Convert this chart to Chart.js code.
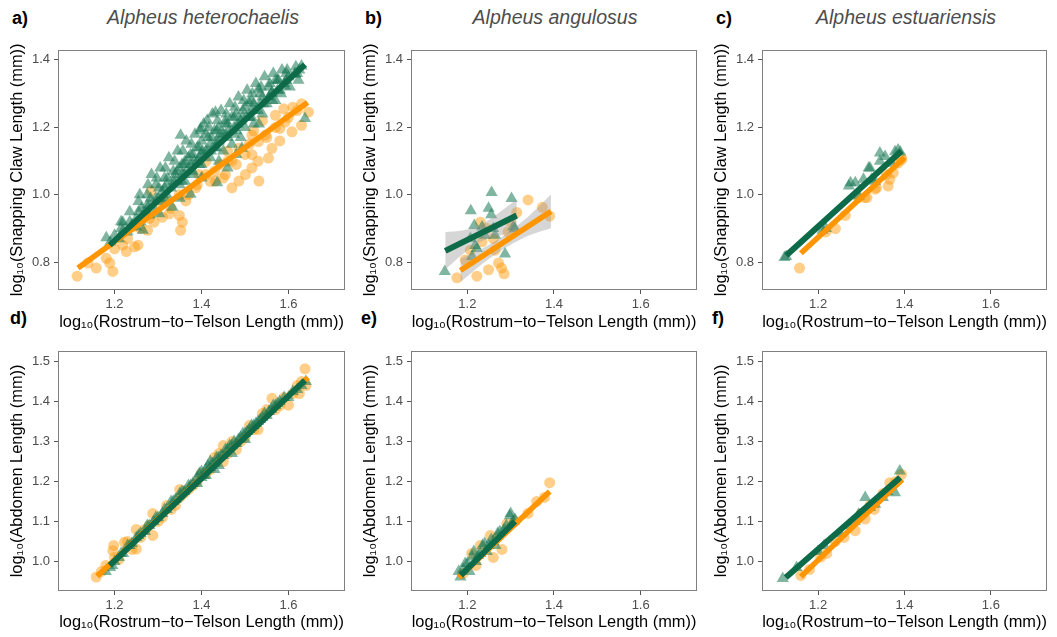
<!DOCTYPE html>
<html><head><meta charset="utf-8">
<script src="https://cdn.jsdelivr.net/npm/chart.js@4"></script>
<style>
body{margin:0;background:#fff;}
#wrap{position:relative;width:1057px;height:637px;overflow:hidden;font-family:"Liberation Sans",Arial,sans-serif;}
.pl{position:absolute;}
.lab{position:absolute;font-weight:bold;font-size:18px;line-height:20px;color:#000;}
.ttl{position:absolute;font-style:italic;font-size:19.5px;line-height:22px;color:#4d4d4d;transform:translateX(-50%);white-space:nowrap;}
</style></head><body>
<div id="wrap">
  <div class="lab" style="left:12px;top:8px">a)</div>
  <div class="lab" style="left:365px;top:8px">b)</div>
  <div class="lab" style="left:716px;top:8px">c)</div>
  <div class="lab" style="left:10px;top:308px">d)</div>
  <div class="lab" style="left:361px;top:308px">e)</div>
  <div class="lab" style="left:712px;top:308px">f)</div>
  <div class="ttl" style="left:203px;top:6px">Alpheus heterochaelis</div>
  <div class="ttl" style="left:555px;top:6px">Alpheus angulosus</div>
  <div class="ttl" style="left:906px;top:6px">Alpheus estuariensis</div>
  <div class="pl" style="left:0px;top:38px;width:352px;height:300px"><canvas id="pa"></canvas></div>
  <div class="pl" style="left:353px;top:38px;width:351px;height:300px"><canvas id="pb"></canvas></div>
  <div class="pl" style="left:704px;top:38px;width:350px;height:300px"><canvas id="pc"></canvas></div>
  <div class="pl" style="left:0px;top:339px;width:352px;height:298px"><canvas id="pd"></canvas></div>
  <div class="pl" style="left:353px;top:339px;width:351px;height:298px"><canvas id="pe"></canvas></div>
  <div class="pl" style="left:704px;top:339px;width:350px;height:298px"><canvas id="pf"></canvas></div>
</div>
<script>
// ---------- axis ticks & labels ----------
const xTicks = [1.2, 1.4, 1.6];
const yTicksClaw = [0.8, 1.0, 1.2, 1.4];
const yTicksAbd = [1.0, 1.1, 1.2, 1.3, 1.4, 1.5];
const xTitle = 'log\u2081\u2080(Rostrum\u2212to\u2212Telson Length (mm))';
const yTitleClaw = 'log\u2081\u2080(Snapping Claw Length (mm))';
const yTitleAbd = 'log\u2081\u2080(Abdomen Length (mm))';

// ---------- panel a: A. heterochaelis, claw ----------
const aOrange = [[1.114,0.759],[1.139,0.798],[1.158,0.783],[1.181,0.812],[1.189,0.798],[1.196,0.773],[1.219,0.851],[1.227,0.832],[1.246,0.846],[1.254,0.851],[1.276,0.895],[1.291,0.919],[1.284,1.012],[1.310,0.934],[1.326,0.944],[1.349,0.939],[1.352,0.895],[1.356,0.919],[1.318,0.982],[1.364,0.982],[1.349,1.000],[1.387,1.021],[1.432,1.041],[1.455,1.060],[1.470,1.021],[1.486,1.041],[1.501,1.060],[1.516,1.080],[1.532,1.041],[1.554,1.109],[1.562,1.138],[1.516,1.119],[1.547,1.177],[1.570,1.236],[1.589,1.255],[1.608,1.187],[1.630,1.206],[1.646,1.245],[1.592,1.216],[1.470,1.100],[1.410,1.099],[1.443,1.090],[1.394,1.060],[1.486,1.138],[1.531,1.158],[1.516,1.177],[1.580,1.197],[1.242,0.905],[1.270,0.940],[1.300,0.980],[1.620,1.250],[1.600,1.230],
  [1.200,0.840],[1.230,0.870],[1.260,0.900],[1.280,0.930],[1.330,0.960],[1.370,1.000],[1.390,1.030],[1.410,1.060],[1.430,1.070],[1.450,1.050],[1.460,1.100],[1.480,1.090],[1.500,1.120],[1.510,1.150],[1.530,1.100],[1.550,1.170],[1.570,1.200],[1.580,1.160],[1.610,1.260],[1.630,1.270],[1.540,1.220],[1.460,1.130],[1.520,1.190],[1.420,1.040]];
const aGreen = [[1.181,0.873],[1.190,0.860],[1.200,0.880],[1.210,0.870],[1.219,0.919],[1.220,0.895],[1.230,0.890],[1.240,0.910],[1.250,0.905],[1.250,0.930],[1.260,0.920],[1.265,0.895],[1.270,0.950],[1.280,0.940],[1.280,0.970],[1.290,0.960],[1.300,0.990],[1.303,0.944],[1.310,0.980],[1.310,1.010],[1.320,1.000],[1.320,1.030],[1.330,1.020],[1.333,0.963],[1.340,1.040],[1.340,1.060],[1.350,1.030],[1.350,1.080],[1.352,1.177],[1.360,1.060],[1.360,1.090],[1.370,1.080],[1.370,1.110],[1.375,1.002],[1.380,1.070],[1.380,1.120],[1.390,1.100],[1.390,1.140],[1.398,1.197],[1.400,1.090],[1.400,1.120],[1.400,1.160],[1.410,1.130],[1.410,1.180],[1.413,1.221],[1.420,1.110],[1.420,1.150],[1.430,1.140],[1.430,1.190],[1.432,1.245],[1.436,1.036],[1.440,1.160],[1.440,1.200],[1.450,1.130],[1.450,1.180],[1.455,1.220],[1.460,1.170],[1.460,1.210],[1.470,1.150],[1.470,1.230],[1.480,1.190],[1.480,1.240],[1.490,1.170],[1.490,1.220],[1.493,1.138],[1.500,1.200],[1.500,1.260],[1.509,1.274],[1.510,1.230],[1.520,1.210],[1.520,1.270],[1.530,1.250],[1.531,1.313],[1.532,1.210],[1.540,1.240],[1.540,1.290],[1.550,1.270],[1.560,1.300],[1.562,1.304],[1.570,1.280],[1.570,1.340],[1.580,1.310],[1.590,1.330],[1.592,1.323],[1.600,1.350],[1.615,1.357],[1.620,1.360],[1.630,1.382],[1.638,1.226],[1.480,1.120],[1.440,1.100],[1.400,1.050],[1.350,0.990],[1.460,1.080],
  [1.262,0.960],[1.258,1.000],[1.283,0.990],[1.277,1.030],[1.285,1.060],[1.302,1.020],[1.297,1.050],[1.305,1.080],[1.322,1.050],[1.317,1.080],[1.325,1.110],[1.343,1.070],[1.338,1.100],[1.345,1.130],[1.362,1.100],[1.357,1.130],[1.365,1.160],[1.362,1.040],[1.383,1.100],[1.377,1.150],[1.385,1.180],[1.382,1.060],[1.402,1.130],[1.397,1.190],[1.405,1.210],[1.423,1.170],[1.417,1.200],[1.425,1.240],[1.422,1.130],[1.443,1.180],[1.437,1.220],[1.445,1.250],[1.463,1.190],[1.457,1.240],[1.465,1.270],[1.483,1.210],[1.477,1.260],[1.485,1.290],[1.503,1.230],[1.497,1.280],[1.505,1.310],[1.523,1.250],[1.517,1.300],[1.525,1.330],[1.543,1.270],[1.537,1.320],[1.545,1.350],[1.563,1.280],[1.557,1.330],[1.565,1.360],[1.583,1.300],[1.577,1.340],[1.585,1.370],[1.603,1.320],[1.597,1.370],[1.623,1.340],[1.617,1.380],
  [1.215,0.900],[1.215,0.920],[1.235,0.920],[1.235,0.950],[1.255,0.950],[1.255,0.980],[1.275,0.970],[1.275,1.000],[1.275,0.945],[1.295,0.990],[1.295,1.030],[1.315,1.020],[1.315,1.050],[1.315,0.990],[1.335,1.040],[1.335,1.070],[1.355,1.060],[1.355,1.090],[1.355,1.040],[1.375,1.090],[1.375,1.120],[1.395,1.110],[1.395,1.140],[1.395,1.090],[1.415,1.130],[1.415,1.170],[1.435,1.160],[1.435,1.190],[1.435,1.140],[1.455,1.180],[1.455,1.210],[1.475,1.200],[1.475,1.230],[1.475,1.180],[1.495,1.230],[1.495,1.250],[1.515,1.250],[1.515,1.280],[1.515,1.230],[1.535,1.270],[1.535,1.300],[1.555,1.290],[1.555,1.320],[1.575,1.310],[1.575,1.340],[1.595,1.340],[1.595,1.360],[1.615,1.360],[1.625,1.370]];
const aOrangeLine = [[1.116,0.783],[1.644,1.274]];
const aGreenLine = [[1.189,0.851],[1.638,1.386]];

// ---------- panel b: A. angulosus, claw ----------
const bOrange = [[1.340,0.985],[1.373,0.963],[1.390,0.937],[1.314,0.948],[1.230,0.919],[1.234,0.861],[1.195,0.807],[1.176,0.754],[1.222,0.759],[1.249,0.778],[1.272,0.798],[1.279,0.783],[1.285,0.766],[1.264,0.836],[1.294,0.890],[1.245,0.900],[1.207,0.836],[1.260,0.870],[1.300,0.920]];
const bGreen = [[1.256,1.007],[1.302,0.989],[1.208,0.953],[1.249,0.960],[1.255,0.941],[1.216,0.909],[1.234,0.905],[1.260,0.900],[1.306,0.905],[1.310,0.900],[1.207,0.871],[1.222,0.841],[1.211,0.817],[1.287,0.825],[1.148,0.773],[1.264,0.880],[1.218,0.850],[1.240,0.880]];
const bOrangeLine = [[1.184,0.776],[1.393,0.951]];
const bGreenLine = [[1.149,0.834],[1.314,0.939]];
const bOrangeBandX = [1.184, 1.240, 1.290, 1.340, 1.393];
const bOrangeBandHi = [0.811, 0.845, 0.885, 0.935, 1.001];
const bOrangeBandLo = [0.741, 0.801, 0.845, 0.879, 0.901];
const bGreenBandX = [1.149, 1.190, 1.230, 1.270, 1.314];
const bGreenBandHi = [0.889, 0.895, 0.911, 0.944, 0.987];
const bGreenBandLo = [0.779, 0.825, 0.861, 0.878, 0.891];

// ---------- panel c: A. estuariensis, claw ----------
const cOrange = [[1.157,0.783],[1.218,0.890],[1.240,0.900],[1.263,0.939],[1.294,0.992],[1.308,0.992],[1.313,0.992],[1.332,1.017],[1.335,1.021],[1.358,1.060],[1.362,1.026],[1.366,1.046],[1.374,1.065],[1.385,1.094],[1.393,1.104],[1.393,1.109]];
const cGreen = [[1.122,0.814],[1.126,0.817],[1.210,0.895],[1.218,0.900],[1.271,1.026],[1.275,1.036],[1.286,1.036],[1.294,0.997],[1.305,1.046],[1.317,1.080],[1.320,1.080],[1.324,1.046],[1.332,1.040],[1.343,1.124],[1.343,1.100],[1.355,1.114],[1.370,1.094],[1.378,1.128],[1.385,1.133],[1.390,1.127]];
const cOrangeLine = [[1.160,0.827],[1.400,1.110]];
const cGreenLine = [[1.126,0.820],[1.393,1.130]];

// ---------- panel d: A. heterochaelis, abdomen ----------
const dOrange = [[1.158,0.961],[1.170,0.975],[1.196,1.027],[1.198,1.040],[1.223,1.048],[1.250,1.031],[1.210,1.005],[1.240,1.030],[1.270,1.080],[1.288,1.065],[1.288,1.120],[1.300,1.100],[1.320,1.140],[1.340,1.140],[1.350,1.160],[1.370,1.180],[1.390,1.200],[1.410,1.220],[1.430,1.260],[1.450,1.250],[1.470,1.300],[1.480,1.280],[1.500,1.310],[1.510,1.340],[1.530,1.330],[1.550,1.380],[1.562,1.408],[1.580,1.390],[1.600,1.391],[1.620,1.440],[1.638,1.482],[1.625,1.420],
  [1.180,0.990],[1.200,1.010],[1.230,1.050],[1.260,1.060],[1.280,1.090],[1.310,1.110],[1.330,1.130],[1.360,1.170],[1.380,1.190],[1.400,1.220],[1.420,1.230],[1.440,1.270],[1.460,1.270],[1.490,1.300],[1.520,1.330],[1.540,1.370],[1.570,1.380],[1.590,1.410],[1.610,1.420],[1.630,1.450],[1.640,1.440],[1.450,1.290],[1.350,1.180],[1.250,1.080]];
const dGreen = [[1.180,0.975],[1.190,0.985],[1.200,1.000],[1.210,1.010],[1.220,1.020],[1.230,1.040],[1.240,1.045],[1.250,1.060],[1.260,1.070],[1.270,1.075],[1.280,1.090],[1.290,1.100],[1.300,1.110],[1.310,1.120],[1.320,1.130],[1.330,1.150],[1.340,1.155],[1.350,1.170],[1.360,1.175],[1.370,1.190],[1.380,1.195],[1.390,1.210],[1.400,1.210],[1.400,1.225],[1.410,1.230],[1.420,1.235],[1.420,1.250],[1.430,1.245],[1.440,1.260],[1.450,1.265],[1.460,1.280],[1.470,1.290],[1.480,1.295],[1.490,1.310],[1.500,1.320],[1.510,1.330],[1.520,1.340],[1.530,1.350],[1.540,1.360],[1.550,1.365],[1.560,1.380],[1.570,1.390],[1.580,1.400],[1.600,1.410],[1.620,1.430],[1.640,1.450],
  [1.195,0.990],[1.215,1.020],[1.235,1.040],[1.255,1.065],[1.275,1.090],[1.295,1.110],[1.315,1.130],[1.335,1.150],[1.355,1.175],[1.375,1.190],[1.395,1.220],[1.405,1.215],[1.415,1.240],[1.425,1.245],[1.435,1.260],[1.445,1.265],[1.455,1.280],[1.465,1.290],[1.475,1.300],[1.485,1.305],[1.495,1.320],[1.505,1.325],[1.515,1.340],[1.525,1.345],[1.535,1.355],[1.545,1.370],[1.555,1.375],[1.565,1.390],[1.575,1.395],[1.590,1.410],[1.610,1.425],[1.630,1.440],[1.440,1.240],[1.470,1.270],[1.500,1.305],[1.430,1.230],[1.410,1.215],[1.390,1.195]];
const dOrangeLine = [[1.160,0.963],[1.645,1.460]];
const dGreenLine = [[1.189,0.990],[1.638,1.453]];

// ---------- panel e: A. angulosus, abdomen ----------
const eOrange = [[1.390,1.197],[1.378,1.160],[1.253,1.065],[1.230,1.040],[1.291,1.094],[1.280,1.030],[1.260,1.010],[1.310,1.100],[1.340,1.120],[1.210,1.020],[1.220,0.990],[1.190,0.970],[1.360,1.150],[1.270,1.060]];
const eGreen = [[1.184,0.961],[1.298,1.114],[1.211,1.011],[1.230,1.020],[1.250,1.040],[1.190,0.980],[1.200,0.995],[1.270,1.070],[1.285,1.080],[1.240,1.045],[1.220,1.000],[1.305,1.100],[1.260,1.050],
  [1.180,0.975],[1.195,0.995],[1.205,0.975],[1.215,1.025],[1.225,1.015],[1.235,1.040],[1.245,1.025],[1.255,1.055],[1.265,1.040],[1.275,1.075],[1.290,1.090],[1.300,1.120],[1.310,1.105]];
const eOrangeLine = [[1.180,0.960],[1.390,1.175]];
const eGreenLine = [[1.185,0.965],[1.310,1.100]];

// ---------- panel f: A. estuariensis, abdomen ----------
const fOrange = [[1.160,0.965],[1.206,1.011],[1.309,1.106],[1.366,1.197],[1.393,1.218],[1.286,1.077],[1.240,1.050],[1.180,0.980],[1.220,1.020],[1.260,1.060],[1.300,1.120],[1.330,1.130],[1.350,1.170],[1.380,1.200],[1.320,1.140]];
const fGreen = [[1.118,0.957],[1.389,1.226],[1.378,1.172],[1.332,1.143],[1.309,1.160],[1.294,1.118],[1.214,1.040],[1.200,1.025],[1.250,1.070],[1.270,1.090],[1.320,1.135],[1.350,1.160],[1.360,1.175],[1.150,0.985],[1.285,1.100]];
const fOrangeLine = [[1.160,0.962],[1.395,1.205]];
const fGreenLine = [[1.125,0.960],[1.390,1.210]];

// ---------- styles ----------
const ORANGE_PT = 'rgba(255,158,20,0.5)';
const GREEN_PT = 'rgba(24,120,86,0.55)';
const ORANGE_LN = '#FF9500';
const GREEN_LN = '#0D6B4A';
const BAND = 'rgba(153,153,153,0.4)';
const FONT = '"Liberation Sans", Arial, sans-serif';

const toXY = arr => arr.map(p => ({x: p[0], y: p[1]}));
const zipXY = (xs, ys) => xs.map((x, i) => ({x, y: ys[i]}));

const borderPlugin = {
  id: 'panelBorder',
  afterDraw(chart) {
    const a = chart.chartArea, c = chart.ctx;
    c.save();
    c.strokeStyle = '#7f7f7f';
    c.lineWidth = 1;
    c.strokeRect(Math.round(a.left) + 0.5, Math.round(a.top) + 0.5, Math.round(a.right - a.left) - 1, Math.round(a.bottom - a.top) - 1);
    c.restore();
  }
};

function makePanel(id, cfg) {
  const ds = [];
  ds.push({type: 'scatter', data: toXY(cfg.orange), pointStyle: 'circle', pointRadius: 5.5, backgroundColor: ORANGE_PT, borderWidth: 0, order: 5});
  ds.push({type: 'scatter', data: toXY(cfg.green), pointStyle: 'triangle', pointRadius: 7, backgroundColor: GREEN_PT, borderWidth: 0, order: 4});
  if (cfg.bands) {
    cfg.bands.forEach(b => {
      ds.push({type: 'line', data: zipXY(b.x, b.hi), borderWidth: 0, pointRadius: 0, fill: false, tension: 0.3, order: 3});
      ds.push({type: 'line', data: zipXY(b.x, b.lo), borderWidth: 0, pointRadius: 0, fill: '-1', backgroundColor: BAND, tension: 0.3, order: 3});
    });
  }
  ds.push({type: 'line', data: toXY(cfg.orangeLine), borderColor: ORANGE_LN, borderWidth: 5.5, pointRadius: 0, fill: false, borderCapStyle: 'butt', order: 1});
  ds.push({type: 'line', data: toXY(cfg.greenLine), borderColor: GREEN_LN, borderWidth: 6, pointRadius: 0, fill: false, borderCapStyle: 'butt', order: 0});

  new Chart(document.getElementById(id), {
    type: 'scatter',
    data: {datasets: ds},
    plugins: [borderPlugin],
    options: {
      responsive: true, maintainAspectRatio: false, animation: false, devicePixelRatio: 1,
      layout: {padding: {top: 9, right: 5, left: 0, bottom: 0}},
      plugins: {legend: {display: false}, tooltip: {enabled: false}},
      scales: {
        x: {
          type: 'linear', min: 1.07, max: 1.73,
          afterBuildTicks: s => { s.ticks = xTicks.map(v => ({value: v})); },
          afterFit: s => { s.height = cfg.xH; },
          ticks: {callback: v => v.toFixed(1), color: '#4d4d4d', font: {family: FONT, size: 13}, padding: 3, maxRotation: 0},
          grid: {drawOnChartArea: false, drawTicks: true, tickLength: 4, color: '#555', tickColor: '#555'},
          border: {display: false},
          title: {display: true, text: xTitle, color: '#000', font: {family: FONT, size: 16.4}, padding: {top: 0, bottom: cfg.xPad}}
        },
        y: {
          type: 'linear', min: cfg.yMin, max: cfg.yMax,
          afterBuildTicks: s => { s.ticks = cfg.yTicks.map(v => ({value: v})); },
          afterFit: s => { s.width = 58; },
          ticks: {callback: v => v.toFixed(1), color: '#4d4d4d', font: {family: FONT, size: 13}, padding: 4},
          grid: {drawOnChartArea: false, drawTicks: true, tickLength: 4, color: '#555', tickColor: '#555'},
          border: {display: false},
          title: {display: true, text: cfg.yTitle, color: '#000', font: {family: FONT, size: 16.4}, padding: {top: 8, bottom: 0}}
        }
      }
    }
  });
}

const topRow = {yMin: 0.718, yMax: 1.43, yTicks: yTicksClaw, yTitle: yTitleClaw, xH: 48, xPad: 6};
const botRow = {yMin: 0.926, yMax: 1.527, yTicks: yTicksAbd, yTitle: yTitleAbd, xH: 46, xPad: 5};

makePanel('pa', Object.assign({}, topRow, {orange: aOrange, green: aGreen, orangeLine: aOrangeLine, greenLine: aGreenLine}));
makePanel('pb', Object.assign({}, topRow, {orange: bOrange, green: bGreen, orangeLine: bOrangeLine, greenLine: bGreenLine,
  bands: [{x: bGreenBandX, hi: bGreenBandHi, lo: bGreenBandLo}, {x: bOrangeBandX, hi: bOrangeBandHi, lo: bOrangeBandLo}]}));
makePanel('pc', Object.assign({}, topRow, {orange: cOrange, green: cGreen, orangeLine: cOrangeLine, greenLine: cGreenLine}));
makePanel('pd', Object.assign({}, botRow, {orange: dOrange, green: dGreen, orangeLine: dOrangeLine, greenLine: dGreenLine}));
makePanel('pe', Object.assign({}, botRow, {orange: eOrange, green: eGreen, orangeLine: eOrangeLine, greenLine: eGreenLine}));
makePanel('pf', Object.assign({}, botRow, {orange: fOrange, green: fGreen, orangeLine: fOrangeLine, greenLine: fGreenLine}));
</script>
</body></html>
